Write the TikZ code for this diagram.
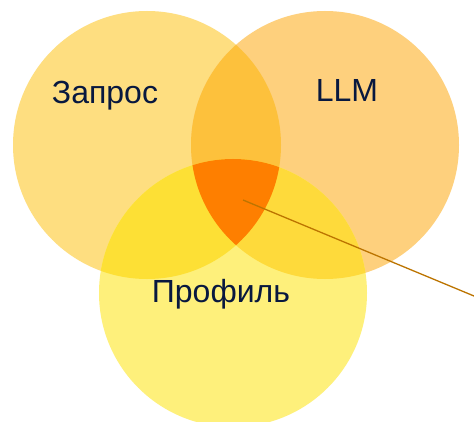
\documentclass[tikz,border=0pt]{standalone}
\usepackage{fontspec}
\setmainfont{Liberation Sans}
\definecolor{cQ}{HTML}{FEDE80}
\definecolor{cL}{HTML}{FED07D}
\definecolor{cP}{HTML}{FEF07B}
\definecolor{cQL}{HTML}{FDC13C}
\definecolor{cQP}{HTML}{FDE035}
\definecolor{cLP}{HTML}{FEDA3B}
\definecolor{cAll}{HTML}{FE7F00}
\definecolor{txt}{HTML}{08183F}
\definecolor{lead}{HTML}{BC7400}
\tikzset{
  setcircle/.style={circle, minimum size=268pt, inner sep=0pt},
  lbl/.style={font=\fontsize{32}{38}\selectfont, text=txt, anchor=base, inner sep=0pt},
  leader/.style={draw=lead, line width=1.3pt}
}
\begin{document}
\begin{tikzpicture}[x=1pt,y=-1pt]
\useasboundingbox (0,0) rectangle (474,422);
\clip (0,0) rectangle (474,422);
\fill[white] (0,0) rectangle (474,422);
\node[setcircle, fill=cQ] (q) at (147,145) {};
\node[setcircle, fill=cL] (l) at (325,145) {};
\node[setcircle, fill=cP] (p) at (233,293) {};
\begin{scope}
  \clip (q.center) circle (134pt);
  \fill[cQL] (l.center) circle (134pt);
  \fill[cQP] (p.center) circle (134pt);
\end{scope}
\begin{scope}
  \clip (l.center) circle (134pt);
  \fill[cLP] (p.center) circle (134pt);
\end{scope}
\begin{scope}
  \clip (q.center) circle (134pt);
  \clip (l.center) circle (134pt);
  \fill[cAll] (p.center) circle (134pt);
\end{scope}
\node[lbl] (tq) at (105,104) {Запрос};
\node[lbl] (tl) at (347,102) {LLM};
\node[lbl] (tp) at (221,302) {Профиль};
\coordinate (core) at (243,200);
\coordinate (out) at (480,298.5);
\draw[leader] (core) -- (out);
\end{tikzpicture}
\end{document}
